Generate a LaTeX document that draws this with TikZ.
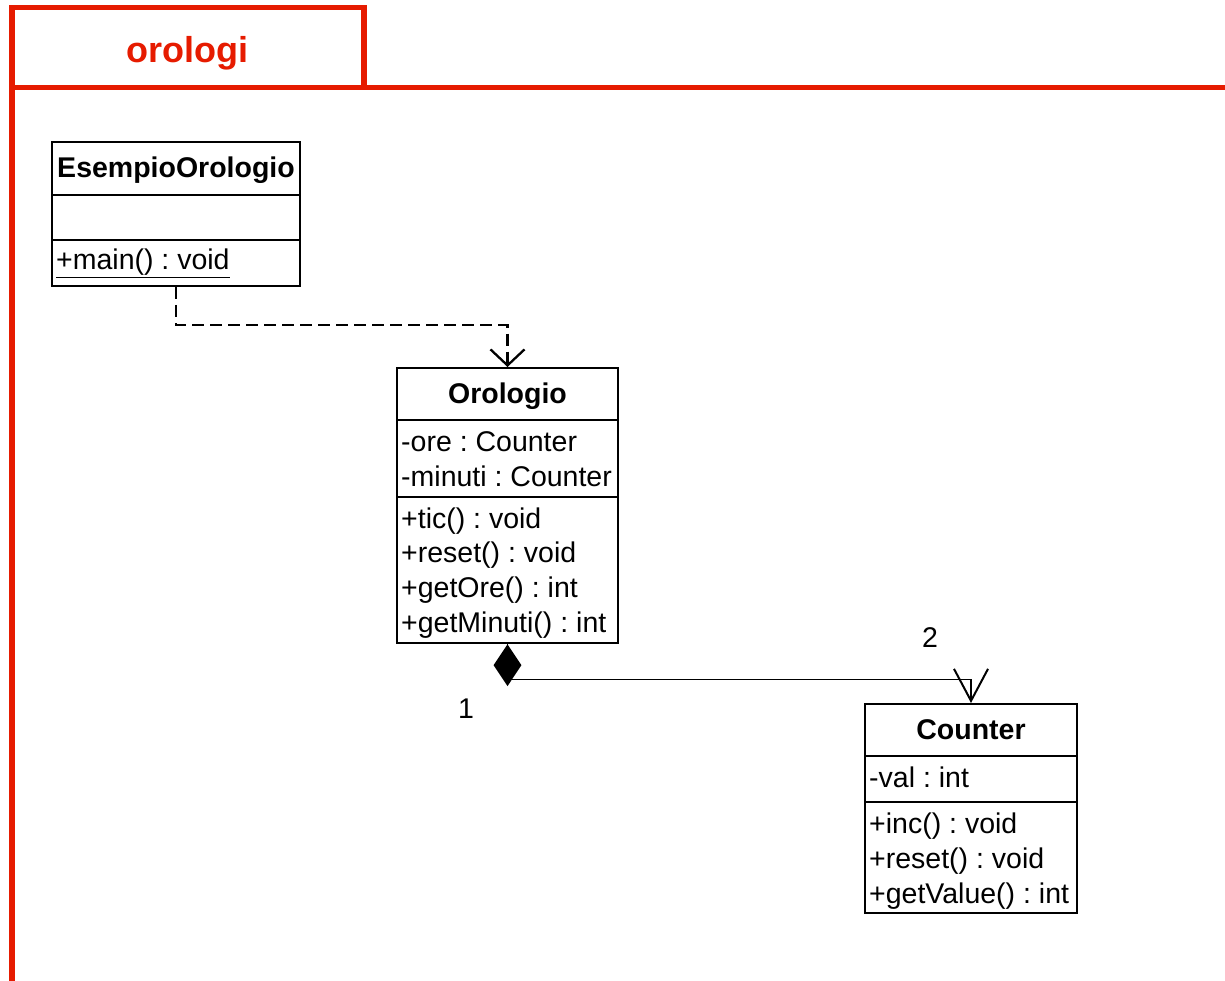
\documentclass[tikz,border=0pt]{standalone}
\usepackage{fontspec}
\setmainfont{Liberation Sans}
\usepackage{tikz}
\usetikzlibrary{arrows.meta,shapes.geometric,positioning,calc}
\definecolor{pkgred}{RGB}{230,27,0}
\frenchspacing

\begin{document}
\begin{tikzpicture}[x = 1pt, y = -1pt,
    font = \fontsize{28.5}{34}\selectfont,
    classbox/.style = {draw, line width = 2pt, inner sep = 0pt},
    divider/.style = {line width = 2pt},
    member/.style = {anchor = base west, inner sep = 0pt},
    classname/.style = {anchor = base, inner sep = 0pt, font = \fontsize{28.5}{34}\selectfont\bfseries},
    mult/.style = {anchor = base, inner sep = 0pt},
    frame/.style = {pkgred, line width = 5.5pt}]
  \useasboundingbox (0,0) rectangle (1225,981);

  % package frame with its tab
  \draw[frame] (12,981) -- (12,7.5) -- (364,7.5) -- (364,87.5);
  \draw[frame] (12,87.5) -- (1225,87.5);
  \node[anchor = base, inner sep = 0pt, text = pkgred, font = \fontsize{36}{40}\selectfont\bfseries] (pkg) at (187.5,63) {orologi};

  % EsempioOrologio
  \node[classbox, minimum width = 248, minimum height = 144] (esempio) at (176,214) {};
  \draw[divider] (esempio.west |- 0,195) -- (esempio.east |- 0,195);
  \draw[divider] (esempio.west |- 0,240) -- (esempio.east |- 0,240);
  \node[classname] (esempioName) at (176,178) {EsempioOrologio};
  \node[member] (esempioMain) at (56,270) {\underline{+main() : void}};

  % Orologio
  \node[classbox, minimum width = 221, minimum height = 275] (orologio) at (507.5,505.5) {};
  \draw[divider] (orologio.west |- 0,420) -- (orologio.east |- 0,420);
  \draw[divider] (orologio.west |- 0,497) -- (orologio.east |- 0,497);
  \node[classname] (orologioName) at (507.5,403) {Orologio};
  \node[member] (oroOre) at (401,451) {-ore : Counter};
  \node[member] (oroMinuti) at (401,486) {-minuti : Counter};
  \node[member] (oroTic) at (401,528) {+tic() : void};
  \node[member] (oroReset) at (401,562) {+reset() : void};
  \node[member] (oroGetOre) at (401,597) {+getOre() : int};
  \node[member] (oroGetMinuti) at (401,632) {+getMinuti() : int};

  % Counter
  \node[classbox, minimum width = 212, minimum height = 209] (counter) at (971,808.5) {};
  \draw[divider] (counter.west |- 0,756) -- (counter.east |- 0,756);
  \draw[divider] (counter.west |- 0,802) -- (counter.east |- 0,802);
  \node[classname] (counterName) at (971,739) {Counter};
  \node[member] (cntVal) at (869,787) {-val : int};
  \node[member] (cntInc) at (869,833) {+inc() : void};
  \node[member] (cntReset) at (869,868) {+reset() : void};
  \node[member] (cntGetValue) at (869,903) {+getValue() : int};

  % dependency
  \draw[line width = 2.3pt, dash pattern = on 12pt off 6pt, -{Straight Barb[length = 16pt, width = 34pt]}]
    (esempio.south) -- ++(0,38) -| (orologio.north);

  % composition
  \draw[line width = 1.5pt, -{Straight Barb[length = 32pt, width = 34pt, line width = 2pt]}]
    (orologio.south) -- ++(0,35.5) -| (counter.north);
  \node[diamond, fill, inner sep = 0pt, minimum width = 28, minimum height = 42, anchor = north] (comp) at (orologio.south) {};
  \node[mult] (multOro) at (466,718) {1};
  \node[mult] (multCnt) at (930,647) {2};
\end{tikzpicture}
\end{document}
